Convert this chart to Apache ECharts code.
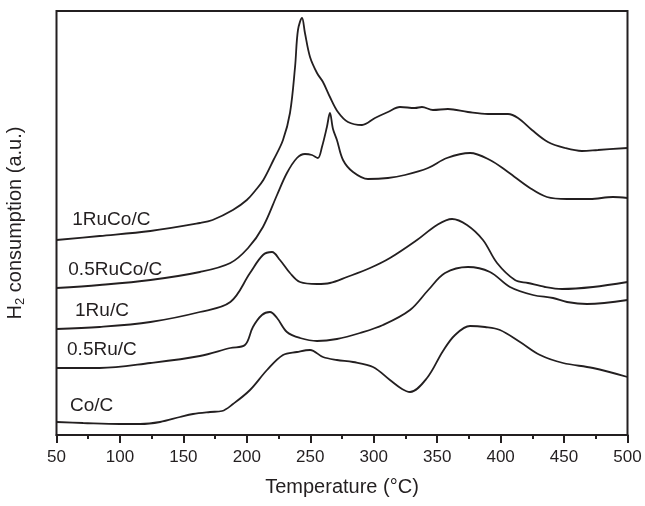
<!DOCTYPE html>
<html>
<head>
<meta charset="utf-8">
<script src="https://cdn.jsdelivr.net/npm/echarts@6/dist/echarts.min.js"></script>
<style>
html,body{margin:0;padding:0;background:#fff;}
#chart{width:645px;height:506px;}
</style>
</head>
<body>
<div id="chart"></div>
<script>
// Temperature (°C) / H2 consumption (a.u., arbitrary offset units)
const ruCo1 = [[50,195],[84,199],[124,204],[163,212],[173,215],[189,225],[200,235],[207,245],[213,255],[221,275],[228.5,295],[234,322],[238,368],[240.3,405],[243.5,417],[245.8,402],[249.8,378],[255.3,362],[260,353],[265.5,338],[271.8,323],[279.7,313],[290.8,310],[301,317],[311.2,323],[320.7,328],[332.5,327],[338,328],[346.7,325],[358.5,326],[374.3,323],[390,321],[405.8,321],[413.7,317],[424.7,305],[437.3,293],[450.7,287],[464.1,284],[476.7,285],[500,287]];
const ruCo05 = [[50,147],[84,150],[124,155],[163,163],[187,172],[201,187],[212.7,208],[223.8,240],[231.6,262],[239.5,277],[245.8,281],[251.3,280],[256,277],[259.2,288],[263.1,308],[265.5,322],[267.9,306],[271,295],[275.8,275],[283.7,263],[295.5,256],[311.2,257],[324.6,260],[342.8,267],[357.7,277],[375.9,282],[391.6,275],[405.8,263],[423.1,247],[436.5,238],[452.3,236],[470.4,236],[488.5,238],[500,237]];
const ru1 = [[50,106],[84,108],[124,113],[163,123],[187,133],[202.5,162],[212.7,180],[219.8,183],[226.1,175],[234,162],[241.9,153],[255.3,151],[265.5,152],[278.9,158],[297.1,167],[312.8,177],[334.1,195],[349.9,210],[361.7,216],[373.5,210],[386.1,195],[397.2,172],[411.3,155],[421.6,152],[435,148],[448.4,146],[472.8,148],[500,153]];
const ru05 = [[50,67],[84,67],[124,72],[163,79],[187,87],[198.5,90],[204.8,108],[211.9,120],[218.2,123],[223.8,117],[231.6,103],[241.9,97],[255.3,94],[271,96],[289.2,102],[307.3,110],[328.6,125],[343,145],[356.2,162],[374.3,168],[391.6,163],[407.4,148],[425.5,140],[441.3,137],[452.3,133],[468.1,131],[500,135]];
const coC = [[50,13],[71,12],[100,11],[116,11],[131.6,13],[147.3,18],[157.6,21],[171,23],[180.4,24],[189.1,31],[202.5,45],[215.9,65],[228.5,80],[239.5,83],[249.8,85],[260,78],[271,75],[283.7,73],[299.4,68],[312.8,55],[322.3,46],[328.6,43],[342,57],[354.6,84],[364.1,100],[375.9,109],[387.7,108],[399.5,105],[415.3,93],[431.1,80],[449.2,72],[472.8,67],[500,58]];
const seriesNames = ['1RuCo/C','0.5RuCo/C','1Ru/C','0.5Ru/C','Co/C'];
const seriesData = [ruCo1, ruCo05, ru1, ru05, coC];
const labelAnchors = [[62.4,215],[59.3,165],[64.6,124],[58.3,85],[60.6,29]];
const xTicks = [50,100,150,200,250,300,350,400,450,500];

const ink = '#231f20';
const font = 'Liberation Sans, Arial, Helvetica, sans-serif';
const chart = echarts.init(document.getElementById('chart'), null, {renderer:'canvas'});
chart.setOption({
  animation:false,
  backgroundColor:'#fff',
  grid:{left:56.5,right:17.5,top:11,bottom:71,containLabel:false,outerBoundsMode:'none',show:true,borderColor:ink,borderWidth:2,backgroundColor:'transparent'},
  xAxis:{
    type:'value',min:xTicks[0],max:xTicks[xTicks.length-1],interval:50,
    name:'Temperature (°C)',nameLocation:'middle',nameGap:42,
    nameTextStyle:{fontFamily:font,fontSize:20,color:ink},
    axisLine:{show:true,lineStyle:{color:ink,width:2}},
    axisTick:{show:true,inside:false,length:8,lineStyle:{color:ink,width:2}},
    minorTick:{show:true,splitNumber:2,length:4,lineStyle:{color:ink,width:2}},
    axisLabel:{margin:14,fontFamily:font,fontSize:17,color:ink},
    splitLine:{show:false}
  },
  yAxis:{
    type:'value',min:0,max:424,
    name:'{a|H}{s|2}{a| consumption (a.u.)}',nameLocation:'middle',nameGap:30,nameRotate:90,
    nameTextStyle:{rich:{a:{fontFamily:font,fontSize:20,color:ink},s:{fontFamily:font,fontSize:13,color:ink,verticalAlign:'bottom',padding:[9,0,0,0]}}},
    axisLine:{show:false},axisTick:{show:false},axisLabel:{show:false},splitLine:{show:false}
  },
  series: seriesData.map((d,i)=>({
    type:'line',name:seriesNames[i],data:d,smooth:0.35,symbol:'none',
    lineStyle:{color:ink,width:1.8},
    markPoint:{
      symbol:'circle',symbolSize:0,silent:true,
      data:[{coord:labelAnchors[i],value:seriesNames[i]}],
      label:{show:true,position:[0,0],align:'left',verticalAlign:'middle',formatter:seriesNames[i],fontFamily:font,fontSize:19,color:ink}
    }
  }))
});
</script>
</body>
</html>
